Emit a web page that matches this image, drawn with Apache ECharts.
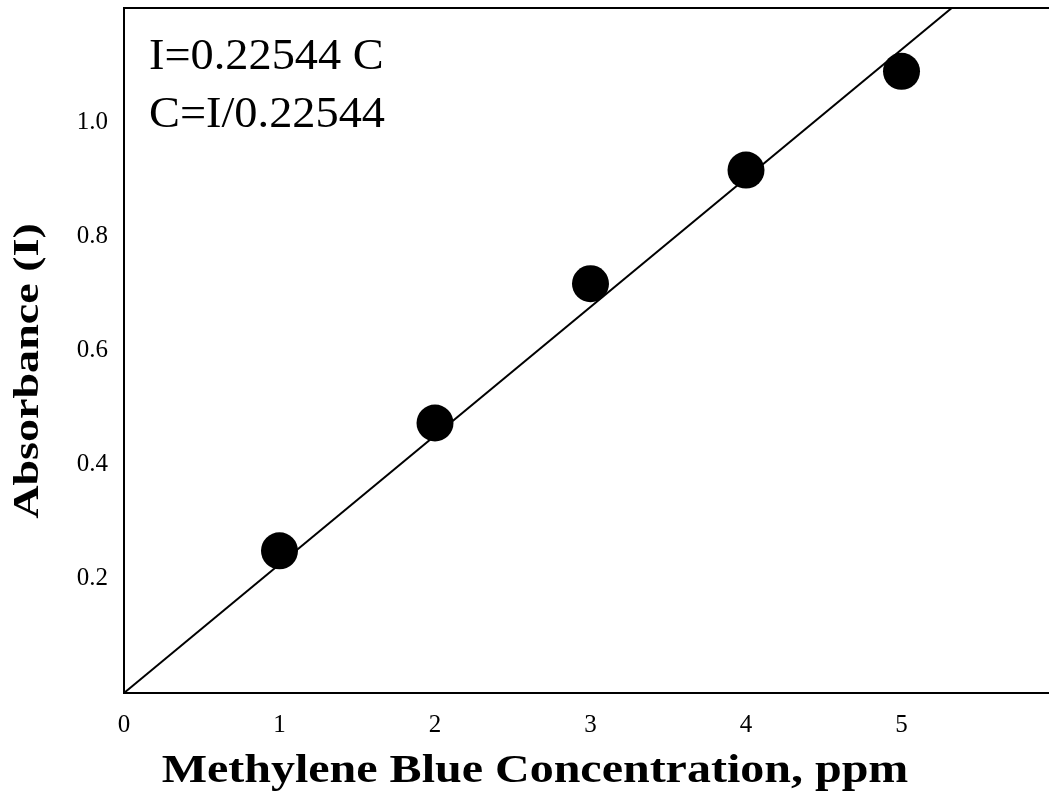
<!DOCTYPE html>
<html>
<head>
<meta charset="utf-8">
<script src="https://cdn.jsdelivr.net/npm/echarts@6/dist/echarts.min.js"></script>
<style>
  html, body { margin: 0; padding: 0; background: #fff; overflow: hidden; }
  /* canvas is a little wider than the page so the frame's right side falls off-page */
  #chart { width: 1060px; height: 800px; }
</style>
</head>
<body>
<div id="chart"></div>
<script>
// Calibration points: concentration (ppm) and measured absorbance
const concentration = [1, 2, 3, 4, 5];
const absorbance = [0.249, 0.473, 0.717, 0.916, 1.089];

// Fitted calibration slope, I = k * C
const slope = 0.22544;
const equationLines = ['I=0.22544 C', 'C=I/0.22544'];

const xTicks = [0, 1, 2, 3, 4, 5];
const yTicks = [0.2, 0.4, 0.6, 0.8, 1.0];

const X_MAX = 6;
const Y_MAX = 1.2;

const serif = '"Liberation Serif", "Times New Roman", serif';

const points = concentration.map((c, i) => [c, absorbance[i]]);
const fitLine = [[0, 0], [X_MAX, X_MAX * slope]];

const chart = echarts.init(document.getElementById('chart'), null, { renderer: 'canvas' });

chart.setOption({
  backgroundColor: '#ffffff',
  animation: false,
  grid: {
    left: 124, width: 933, top: 8, height: 685,
    show: true, borderColor: '#000', borderWidth: 2, backgroundColor: 'transparent'
  },
  xAxis: {
    type: 'value', min: 0, max: X_MAX, interval: 1,
    axisLine: { show: true, lineStyle: { color: '#000', width: 2 } },
    axisTick: { show: false },
    splitLine: { show: false },
    axisLabel: {
      margin: 20, fontFamily: serif, fontSize: 25, color: '#000',
      formatter: v => (xTicks.includes(v) ? String(v) : '')
    }
  },
  yAxis: {
    type: 'value', min: 0, max: Y_MAX, interval: 0.2,
    axisLine: { show: true, lineStyle: { color: '#000', width: 2 } },
    axisTick: { show: false },
    splitLine: { show: false },
    axisLabel: {
      margin: 16, fontFamily: serif, fontSize: 25, color: '#000',
      padding: [10, 0, 0, 0],
      formatter: v => {
        const hit = yTicks.find(t => Math.abs(t - v) < 1e-6);
        return hit === undefined ? '' : hit.toFixed(1);
      }
    }
  },
  series: [
    {
      type: 'line', data: fitLine, symbol: 'none', clip: true,
      lineStyle: { color: '#000', width: 2 }, z: 2
    },
    {
      type: 'scatter', data: points, symbol: 'circle', symbolSize: 37,
      itemStyle: { color: '#000', opacity: 1 }, z: 3
    }
  ],
  graphic: [
    {
      type: 'text', left: 149, top: 28, scaleX: 1.03,
      style: { text: equationLines.join('\n'), font: '45px ' + serif, fill: '#000', lineHeight: 58 }
    },
    {
      type: 'text', x: 535, y: 772, scaleX: 1.2,
      style: {
        text: 'Methylene Blue Concentration, ppm', font: 'bold 40px ' + serif,
        fill: '#000', align: 'center', verticalAlign: 'middle'
      }
    },
    {
      type: 'text', x: 29, y: 371, rotation: Math.PI / 2, scaleX: 1.28,
      style: {
        text: 'Absorbance (I)', font: 'bold 36px ' + serif,
        fill: '#000', align: 'center', verticalAlign: 'middle'
      }
    }
  ]
});
</script>
</body>
</html>
